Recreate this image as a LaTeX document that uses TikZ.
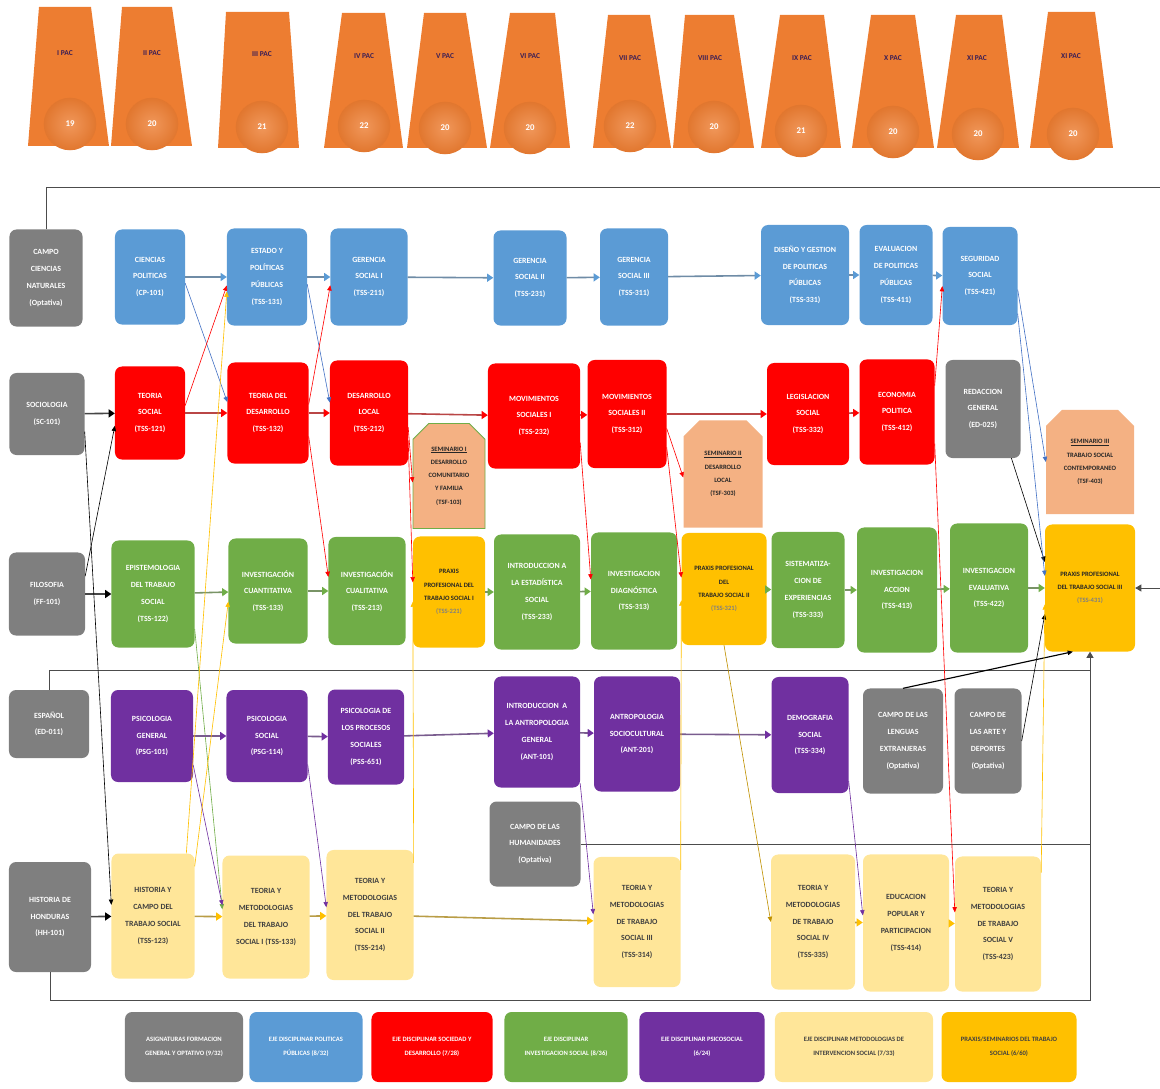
\documentclass[tikz,border=0pt]{standalone}
\usepackage{fontspec}
\setmainfont{Carlito}
\usetikzlibrary{arrows.meta,shapes.misc}
\definecolor{gris}{HTML}{7F7F7F}
\definecolor{azul}{HTML}{5B9BD5}
\definecolor{azulosc}{HTML}{4472C4}
\definecolor{rojo}{HTML}{FF0000}
\definecolor{verde}{HTML}{70AD47}
\definecolor{morado}{HTML}{7030A0}
\definecolor{crema}{HTML}{FFE699}
\definecolor{amarillo}{HTML}{FFC000}
\definecolor{oro}{HTML}{BF9000}
\definecolor{salmon}{HTML}{F4B183}
\definecolor{naranja}{HTML}{ED7D31}
\definecolor{pacc}{HTML}{3B1E55}
\begin{document}
\begin{tikzpicture}[x=0.04cm,y=-0.04cm,
	curso/.style={rounded corners=8pt,align=center,text=white,inner sep=1pt,
		font=\fontsize{9}{19}\selectfont\bfseries},
	tam/.style 2 args={minimum width=#1*0.4mm,minimum height=#2*0.4mm},
	oscuro/.style={text=black!85,font=\fontsize{7.5}{15}\selectfont\bfseries},
	praxis/.style={curso,fill=amarillo,oscuro},
	semi/.style={chamfered rectangle,chamfered rectangle corners={north west,north east},
		chamfered rectangle xsep=9pt,chamfered rectangle ysep=9pt,
		fill=salmon,align=center,inner sep=1pt,oscuro},
	metodo/.style={curso,fill=crema,text=black!75},
	leyenda/.style={curso,font=\fontsize{7.5}{16}\selectfont\bfseries},
	pac/.style={text=pacc,font=\fontsize{8.5}{10}\selectfont\bfseries},
	num/.style={text=white,font=\fontsize{10}{12}\selectfont\bfseries},
	bola/.style={inner color=naranja!80!white,outer color=naranja!95!black},
	hor/.style={line width=1.8pt,draw=#1!45!gray,-{Triangle[length=7pt,width=9pt,color=#1]}},
	diag/.style={line width=0.7pt,draw=#1,-{Triangle[length=6pt,width=5pt]}},
	marco/.style={line width=0.9pt,draw=black!70}]
	\useasboundingbox (0,0) rectangle (1160,1089);

	% periodos
	\fill[naranja] (28,146) -- (39,7) -- (91,7) -- (109,146) -- cycle;
	\shade[bola] (70,124) circle [radius=1.05cm];
	\node (pac1) at (65,53) [pac] {I PAC};
	\node (n1) at (70,124) [num] {19};
	\fill[naranja] (111,146) -- (122,7) -- (172,7) -- (192,146) -- cycle;
	\shade[bola] (152,124) circle [radius=1.05cm];
	\node (pac2) at (152,53) [pac] {II PAC};
	\node (n2) at (152,124) [num] {20};
	\fill[naranja] (218,148) -- (226,12) -- (289,12) -- (299,148) -- cycle;
	\shade[bola] (262,127) circle [radius=1.05cm];
	\node (pac3) at (262,54) [pac] {III PAC};
	\node (n3) at (262,127) [num] {21};
	\fill[naranja] (324,148) -- (342,13) -- (385,13) -- (403,148) -- cycle;
	\shade[bola] (364,126) circle [radius=1.05cm];
	\node (pac4) at (364,56) [pac] {IV PAC};
	\node (n4) at (364,126) [num] {22};
	\fill[naranja] (407,148) -- (424,13) -- (466,13) -- (487,148) -- cycle;
	\shade[bola] (445,128) circle [radius=1.05cm];
	\node (pac5) at (445,56) [pac] {V PAC};
	\node (n5) at (445,128) [num] {20};
	\fill[naranja] (490,148) -- (510,13) -- (555,13) -- (570,148) -- cycle;
	\shade[bola] (530,128) circle [radius=1.05cm];
	\node (pac6) at (530,56) [pac] {VI PAC};
	\node (n6) at (530,128) [num] {20};
	\fill[naranja] (593,148) -- (608,15) -- (650,15) -- (671,148) -- cycle;
	\shade[bola] (630,126) circle [radius=1.05cm];
	\node (pac7) at (630,58) [pac] {VII PAC};
	\node (n7) at (630,126) [num] {22};
	\fill[naranja] (673,148) -- (685,15) -- (734,15) -- (754,148) -- cycle;
	\shade[bola] (714,127) circle [radius=1.05cm];
	\node (pac8) at (710,58) [pac] {VIII PAC};
	\node (n8) at (714,127) [num] {20};
	\fill[naranja] (761,148) -- (780,15) -- (824,15) -- (841,148) -- cycle;
	\shade[bola] (801,131) circle [radius=1.05cm];
	\node (pac9) at (802,58) [pac] {IX PAC};
	\node (n9) at (801,131) [num] {21};
	\fill[naranja] (852,148) -- (871,15) -- (915,15) -- (934,148) -- cycle;
	\shade[bola] (893,132) circle [radius=1.05cm];
	\node (pac10) at (893,58) [pac] {X PAC};
	\node (n10) at (893,132) [num] {20};
	\fill[naranja] (937,148) -- (956,15) -- (1002,15) -- (1019,148) -- cycle;
	\shade[bola] (978,134) circle [radius=1.05cm];
	\node (pac11) at (977,58) [pac] {XI PAC};
	\node (n11) at (978,134) [num] {20};
	\fill[naranja] (1030,148) -- (1048,12) -- (1095,12) -- (1113,148) -- cycle;
	\shade[bola] (1073,134) circle [radius=1.05cm];
	\node (pac12) at (1071,56) [pac] {XI PAC};
	\node (n12) at (1073,134) [num] {20};

	% fila 1: politicas publicas
	\node (cn) at (46,278) [curso,fill=gris,tam={73}{97}] {CAMPO\\CIENCIAS\\NATURALES\\(Optativa)};
	\node (cp) at (150,277) [curso,fill=azul,tam={70}{95}] {CIENCIAS\\POLITICAS\\(CP-101)};
	\node (ep) at (267,277) [curso,fill=azul,tam={80}{97}] {ESTADO Y\\POLÍTICAS\\PÚBLICAS\\(TSS-131)};
	\node (g1) at (369,277) [curso,fill=azul,tam={77}{97}] {GERENCIA\\SOCIAL I\\(TSS-211)};
	\node (g2) at (530,278) [curso,fill=azul,tam={73}{95}] {GERENCIA\\SOCIAL II\\(TSS-231)};
	\node (g3) at (634,277) [curso,fill=azul,tam={68}{97}] {GERENCIA\\SOCIAL III\\(TSS-311)};
	\node (dg) at (805,275) [curso,fill=azul,tam={88}{100}] {DISEÑO Y GESTION\\DE POLITICAS\\PÚBLICAS\\(TSS-331)};
	\node (ev) at (896,275) [curso,fill=azul,tam={73}{100}] {EVALUACION\\DE POLITICAS\\PÚBLICAS\\(TSS-411)};
	\node (ss) at (980,276) [curso,fill=azul,tam={75}{98}] {SEGURIDAD\\SOCIAL\\(TSS-421)};

	% fila 2: sociedad y desarrollo
	\node (soc) at (47,414) [curso,fill=gris,tam={75}{82}] {SOCIOLOGIA\\(SC-101)};
	\node (ts) at (150,413) [curso,fill=rojo,tam={70}{93}] {TEORIA\\SOCIAL\\(TSS-121)};
	\node (td) at (268,413) [curso,fill=rojo,tam={81}{101}] {TEORIA DEL\\DESARROLLO\\(TSS-132)};
	\node (dl) at (369,413) [curso,fill=rojo,tam={78}{105}] {DESARROLLO\\LOCAL\\(TSS-212)};
	\node (m1) at (534,416) [curso,fill=rojo,tam={92}{105}] {MOVIMIENTOS\\SOCIALES I\\(TSS-232)};
	\node (m2) at (627,414) [curso,fill=rojo,tam={79}{108}] {MOVIMIENTOS\\SOCIALES II\\(TSS-312)};
	\node (ls) at (808,414) [curso,fill=rojo,tam={82}{102}] {LEGISLACION\\SOCIAL\\(TSS-332)};
	\node (epo) at (897,412) [curso,fill=rojo,tam={75}{105}] {ECONOMIA\\POLITICA\\(TSS-412)};
	\node (rg) at (983,409) [curso,fill=gris,tam={75}{98}] {REDACCION\\GENERAL\\(ED-025)};

	% seminarios
	\node (s1) at (449,476) [semi,draw=verde,line width=1pt,tam={72}{105}] {\underline{SEMINARIO I}\\DESARROLLO\\COMUNITARIO\\Y FAMILIA\\(TSF-103)};
	\node (s2) at (723,474) [semi,tam={79}{107}] {\underline{SEMINARIO II}\\DESARROLLO\\LOCAL\\(TSF-303)};
	\node (s3) at (1090,462) [semi,tam={88}{104}] {\underline{SEMINARIO III}\\TRABAJO SOCIAL\\CONTEMPORANEO\\(TSF-403)};

	% fila 3: investigacion social
	\node (fil) at (47,594) [curso,fill=gris,tam={76}{83}] {FILOSOFIA\\(FF-101)};
	\node (epi) at (153,594) [curso,fill=verde,tam={83}{107}] {EPISTEMOLOGIA\\DEL TRABAJO\\SOCIAL\\(TSS-122)};
	\node (icn) at (268,591) [curso,fill=verde,tam={79}{105}] {INVESTIGACIÓN\\CUANTITATIVA\\(TSS-133)};
	\node (icl) at (367,591) [curso,fill=verde,tam={77}{108}] {INVESTIGACIÓN\\CUALITATIVA\\(TSS-213)};
	\node (p1) at (449,592) [praxis,tam={72}{111}] {PRAXIS\\PROFESIONAL DEL\\TRABAJO SOCIAL I\\{\color{black!50}(TSS-221)}};
	\node (ie) at (537,592) [curso,fill=verde,tam={86}{115}] {INTRODUCCION A\\LA ESTADÍSTICA\\SOCIAL\\(TSS-233)};
	\node (idg) at (634,591) [curso,fill=verde,tam={86}{117}] {INVESTIGACION\\DIAGNÓSTICA\\(TSS-313)};
	\node (p2) at (724,589) [praxis,tam={85}{112}] {PRAXIS PROFESIONAL\\DEL\\TRABAJO SOCIAL II\\{\color{black!50}(TSS-321)}};
	\node (sis) at (808,590) [curso,fill=verde,tam={73}{116}] {SISTEMATIZA-\\CION DE\\EXPERIENCIAS\\(TSS-333)};
	\node (ia) at (897,590) [curso,fill=verde,tam={80}{125}] {INVESTIGACION\\ACCION\\(TSS-413)};
	\node (iev) at (989,588) [curso,fill=verde,tam={78}{129}] {INVESTIGACION\\EVALUATIVA\\(TSS-422)};
	\node (p3) at (1090,588) [praxis,tam={90}{127}] {PRAXIS PROFESIONAL\\DEL TRABAJO SOCIAL III\\{\color{black!50}(TSS-431)}};

	% fila 4: psicosocial
	\node (esp) at (49,724) [curso,fill=gris,tam={80}{68}] {ESPAÑOL\\(ED-011)};
	\node (pg) at (152,736) [curso,fill=morado,tam={82}{92}] {PSICOLOGIA\\GENERAL\\(PSG-101)};
	\node (ps) at (267,736) [curso,fill=morado,tam={81}{92}] {PSICOLOGIA\\SOCIAL\\(PSG-114)};
	\node (pps) at (366,737) [curso,fill=morado,tam={76}{95}] {PSICOLOGIA DE\\LOS PROCESOS\\SOCIALES\\(PSS-651)};
	\node (ian) at (537,732) [curso,fill=morado,tam={86}{111}] {INTRODUCCION\ \ A\\LA ANTROPOLOGIA\\GENERAL\\(ANT-101)};
	\node (asc) at (637,734) [curso,fill=morado,tam={86}{115}] {ANTROPOLOGIA\\SOCIOCULTURAL\\(ANT-201)};
	\node (dem) at (810,735) [curso,fill=morado,tam={77}{116}] {DEMOGRAFIA\\SOCIAL\\(TSS-334)};
	\node (cl) at (903,741) [curso,fill=gris,tam={80}{105}] {CAMPO DE LAS\\LENGUAS\\EXTRANJERAS\\(Optativa)};
	\node (ca) at (988,741) [curso,fill=gris,tam={67}{105}] {CAMPO DE\\LAS ARTE Y\\DEPORTES\\(Optativa)};
	\node (hum) at (535,844) [curso,fill=gris,tam={91}{85}] {CAMPO DE LAS\\HUMANIDADES\\(Optativa)};

	% fila 5: metodologias de intervencion
	\node (hh) at (50,917) [curso,fill=gris,tam={82}{110}] {HISTORIA DE\\HONDURAS\\(HH-101)};
	\node (hc) at (153,916) [metodo,tam={83}{125}] {HISTORIA Y\\CAMPO DEL\\TRABAJO SOCIAL\\(TSS-123)};
	\node (t1) at (266,917) [metodo,tam={87}{123}] {TEORIA Y\\METODOLOGIAS\\DEL TRABAJO\\SOCIAL I (TSS-133)};
	\node (t2) at (370,915) [metodo,tam={87}{130}] {TEORIA Y\\METODOLOGIAS\\DEL TRABAJO\\SOCIAL II\\(TSS-214)};
	\node (t3) at (637,922) [metodo,tam={87}{130}] {TEORIA Y\\METODOLOGIAS\\DE TRABAJO\\SOCIAL III\\(TSS-314)};
	\node (t4) at (813,922) [metodo,tam={84}{135}] {TEORIA Y\\METODOLOGIAS\\DE TRABAJO\\SOCIAL IV\\(TSS-335)};
	\node (edp) at (906,923) [metodo,tam={86}{137}] {EDUCACION\\POPULAR Y\\PARTICIPACION\\(TSS-414)};
	\node (t5) at (998,924) [metodo,tam={86}{135}] {TEORIA Y\\METODOLOGIAS\\DE TRABAJO\\SOCIAL V\\(TSS-423)};

	% leyenda
	\node (l1) at (184,1047) [leyenda,fill=gris,tam={118}{70}] {ASIGNATURAS FORMACION\\GENERAL Y OPTATIVO (9/32)};
	\node (l2) at (306,1047) [leyenda,fill=azul,tam={113}{70}] {EJE DISCIPLINAR POLITICAS\\PÚBLICAS (8/32)};
	\node (l3) at (432,1047) [leyenda,fill=rojo,tam={121}{70}] {EJE DISCIPLINAR SOCIEDAD Y\\DESARROLLO (7/28)};
	\node (l4) at (566,1047) [leyenda,fill=verde,tam={123}{70}] {EJE DISCIPLINAR\\INVESTIGACION SOCIAL (8/36)};
	\node (l5) at (702,1047) [leyenda,fill=morado,tam={125}{70}] {EJE DISCIPLINAR PSICOSOCIAL\\(6/24)};
	\node (l6) at (854,1047) [leyenda,fill=crema,text=black!75,tam={158}{70}] {EJE DISCIPLINAR METODOLOGIAS DE\\INTERVENCION SOCIAL (7/33)};
	\node (l7) at (1009,1047) [leyenda,fill=amarillo,text=black!75,tam={135}{70}] {PRAXIS/SEMINARIOS DEL TRABAJO\\SOCIAL (6/60)};

	% marco de optativas
	\coordinate (mA) at (1163,187);
	\coordinate (mB) at (1090,1000);
	\coordinate (mC) at (1090,670);
	\draw[marco,-{Triangle[length=7pt,width=8pt]}] (cn.north) |- (mA) |- (p3.east);
	\draw[marco,-{Triangle[length=7pt,width=8pt]}] (hh.south) |- (mB) -- (p3.south);
	\draw[marco] (esp.north) |- (mC);
	\draw[marco] (hum.east) -- (hum.east -| mB);

	% formacion general
	\draw[hor=black] (soc) -- (ts);
	\draw[hor=black] (fil) -- (epi);
	\draw[hor=black] (hh) -- (hc);
	\draw[diag=black] (soc.-25) -- (hc.165);
	\draw[diag=black] (fil.25) -- (ts.200);
	\draw[diag=black] (rg.-60) -- (p3.150);
	\draw[diag=black,line width=1.3pt] (cl.north) -- (p3.255);
	\draw[diag=black] (ca.east) -- (p3.210);

	% politicas publicas
	\draw[hor=azul] (cp) -- (ep);
	\draw[hor=azul] (ep) -- (g1);
	\draw[hor=azul] (g1) -- (g2);
	\draw[hor=azul] (g2) -- (g3);
	\draw[hor=azul] (g3) -- (dg);
	\draw[hor=azul] (dg) -- (ev);
	\draw[hor=azul] (ev) -- (ss);
	\draw[diag=azulosc] (cp.-10) -- (td.165);
	\draw[diag=azulosc] (ep.-10) -- (dl.165);
	\draw[diag=azulosc] (ss.-20) -- (s3.180);
	\draw[diag=azulosc] (ss.-45) -- (p3.165);

	% sociedad y desarrollo
	\draw[hor=rojo] (ts) -- (td);
	\draw[hor=rojo] (td) -- (dl);
	\draw[hor=rojo] (dl) -- (m1);
	\draw[hor=rojo] (m1) -- (m2);
	\draw[hor=rojo] (m2) -- (ls);
	\draw[hor=rojo] (ls) -- (epo);
	\draw[diag=rojo] (ts.12) -- (ep.192);
	\draw[diag=rojo] (td.12) -- (g1.192);
	\draw[diag=rojo] (td.-30) -- (icl.160);
	\draw[diag=rojo] (dl.-20) -- (s1.190);
	\draw[diag=rojo] (dl.-35) -- (p1.165);
	\draw[diag=rojo] (m1.-30) -- (idg.165);
	\draw[diag=rojo] (m2.-20) -- (s2.185);
	\draw[diag=rojo] (m2.-40) -- (p2.165);
	\draw[diag=rojo] (epo.-40) -- (t5.165);
	\draw[diag=rojo] (epo.35) -- (ss.195);

	% investigacion social
	\draw[hor=verde] (epi) -- (icn);
	\draw[hor=verde] (icn) -- (icl);
	\draw[hor=verde] (p1) -- (ie);
	\draw[hor=verde] (ie) -- (idg);
	\draw[hor=verde] (p2) -- (sis);
	\draw[hor=verde] (sis) -- (ia);
	\draw[hor=verde] (ia) -- (iev);
	\draw[hor=verde] (iev) -- (p3);
	\draw[diag=verde] (epi.-40) -- (t1.170);

	% psicosocial
	\draw[hor=morado] (pg) -- (ps);
	\draw[hor=morado] (ps) -- (pps);
	\draw[hor=morado] (pps) -- (ian);
	\draw[hor=morado] (ian) -- (asc);
	\draw[hor=morado] (asc) -- (dem);
	\draw[diag=morado] (pg.-35) -- (t1.165);
	\draw[diag=morado] (ps.-35) -- (t2.170);
	\draw[diag=morado] (ian.-50) -- (t3.170);
	\draw[diag=morado] (dem.-50) -- (edp.170);

	% metodologias de intervencion
	\draw[hor=amarillo] (hc) -- (t1);
	\draw[hor=amarillo] (t1) -- (t2);
	\draw[hor=amarillo] (t2) -- (t3);
	\draw[hor=amarillo] (t4) -- (edp);
	\draw[hor=amarillo] (edp) -- (t5);
	\draw[diag=amarillo] (hc.50) -- (icn.195);
	\draw[diag=amarillo] (hc.62) -- (ep.200);
	\draw[diag=amarillo] (t2.50) -- (p1.195);
	\draw[diag=amarillo] (t3.50) -- (p2.195);
	\draw[diag=oro] (p2.south) -- (t4.west);
	\draw[diag=amarillo] (t5.50) -- (p3.200);
\end{tikzpicture}
\end{document}
